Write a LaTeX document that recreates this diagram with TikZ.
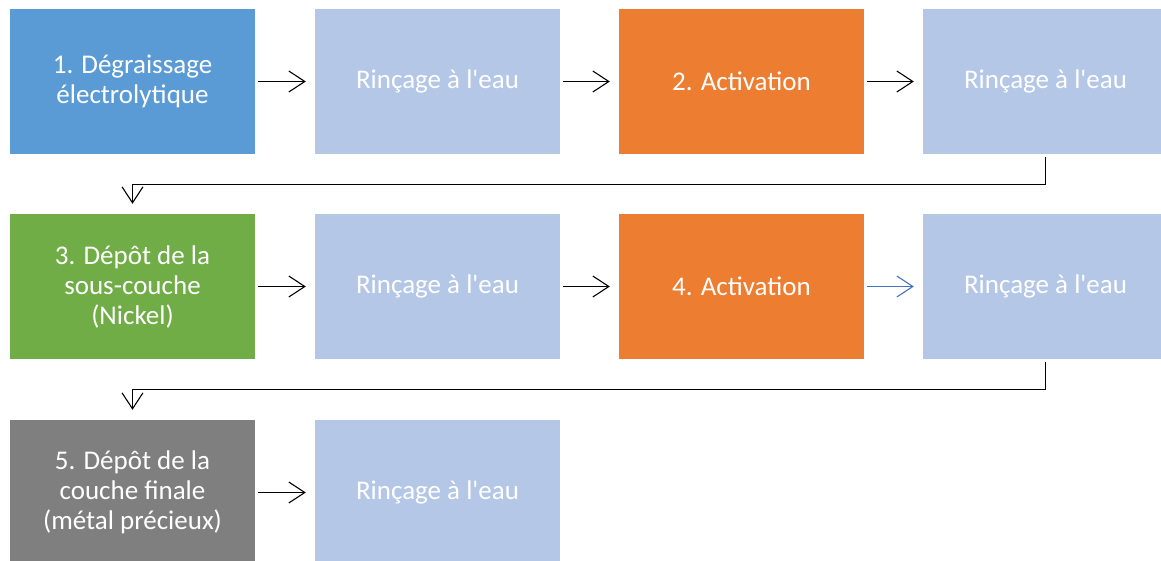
\documentclass[tikz,border=0pt]{standalone}
\usepackage{fontspec}
\setmainfont{Carlito}
\usetikzlibrary{arrows.meta}
\definecolor{cblue}{HTML}{5B9BD5}
\definecolor{clight}{HTML}{B4C7E7}
\definecolor{corange}{HTML}{ED7D31}
\definecolor{cgreen}{HTML}{70AD47}
\definecolor{cgray}{HTML}{7F7F7F}
\definecolor{carrblue}{HTML}{4472C4}
\newcommand{\rinse}{Rinçage à l\textquotesingle eau}
\begin{document}
\begin{tikzpicture}[x=1pt,y=1pt,
  procbox/.style={minimum width=245pt,minimum height=145pt,inner sep=0pt,text=white,
    font=\fontsize{27}{30}\selectfont,align=center},
  arr/.style={draw=black,line width=1.1pt,-{Straight Barb[length=16pt,width=21pt,line width=1.1pt]},
    shorten <=3pt,shorten >=9pt},
  elbow/.style={draw=black,line width=1.1pt,-{Straight Barb[length=16pt,width=21pt,line width=1.1pt]},
    shorten <=3pt,shorten >=10pt}]
\useasboundingbox (0,0) rectangle (1161,-560);
\node[procbox,fill=cblue] (b1) at (132.5,-81.5) {1. Dégraissage\\électrolytique};
\node[procbox,fill=clight] (b2) at (437.5,-81.5) {\rinse};
\node[procbox,fill=corange] (b3) at (741.5,-81.5) {2. Activation};
\node[procbox,fill=clight] (b4) at (1045.5,-81.5) {\rinse};
\node[procbox,fill=cgreen] (b5) at (132.5,-286.5) {3. Dépôt de la\\sous-couche\\(Nickel)};
\node[procbox,fill=clight] (b6) at (437.5,-286.5) {\rinse};
\node[procbox,fill=corange] (b7) at (741.5,-286.5) {4. Activation};
\node[procbox,fill=clight] (b8) at (1045.5,-286.5) {\rinse};
\node[procbox,fill=cgray] (b9) at (132.5,-492.5) {5. Dépôt de la\\couche finale\\(métal précieux)};
\node[procbox,fill=clight] (b10) at (437.5,-492.5) {\rinse};
\draw[arr] (b1.east) -- (b2.west);
\draw[arr] (b2.east) -- (b3.west);
\draw[arr] (b3.east) -- (b4.west);
\draw[arr] (b5.east) -- (b6.west);
\draw[arr] (b6.east) -- (b7.west);
\draw[arr,draw=carrblue,-{Straight Barb[length=16pt,width=21pt,line width=1.1pt,color=carrblue]}] (b7.east) -- (b8.west);
\draw[arr] (b9.east) -- (b10.west);
\draw[elbow] (b4.south) -- ++(0,-30) -| (b5.north);
\draw[elbow] (b8.south) -- ++(0,-30) -| (b9.north);
\end{tikzpicture}
\end{document}
